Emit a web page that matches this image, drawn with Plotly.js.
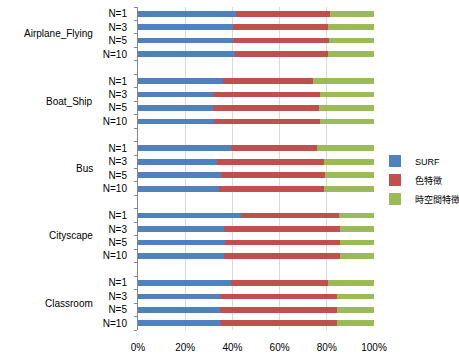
<!DOCTYPE html>
<html>
<head>
<meta charset="utf-8">
<script src="https://cdn.plot.ly/plotly-3.0.1.min.js"></script>
<style>html,body{margin:0;padding:0;background:#fff;}#chart{width:459px;height:355px;}</style>
</head>
<body>
<div id="chart"></div>
<script>
const groups = ['Airplane_Flying', 'Boat_Ship', 'Bus', 'Cityscape', 'Classroom'];
const nLabels = ['N=1', 'N=3', 'N=5', 'N=10'];
const seriesNames = ['SURF', '色特徴', '時空間特徴'];
// percentages, per group in order N=1, N=3, N=5, N=10
const surf = [41.7, 40.3, 40.3, 41.0,
              36.0, 31.9, 31.8, 32.1,
              39.6, 33.6, 35.0, 34.3,
              43.7, 36.3, 37.0, 36.6,
              39.4, 34.7, 34.7, 34.6];
const colorFeat = [39.5, 40.4, 40.5, 39.7,
                   38.0, 45.4, 45.1, 45.0,
                   36.4, 45.0, 44.1, 44.5,
                   41.3, 49.2, 48.6, 49.2,
                   41.1, 49.8, 49.8, 49.7];
const spatioTemporal = [18.8, 19.3, 19.2, 19.3,
                        26.0, 22.7, 23.1, 22.9,
                        24.0, 21.4, 20.9, 21.2,
                        15.0, 14.5, 14.4, 14.2,
                        19.5, 15.5, 15.5, 15.7];
const xTicks = [0, 20, 40, 60, 80, 100];
const colors = ['#4F81BD', '#C0504D', '#9BBB59'];

const FONT = 'Liberation Sans, Arial, Noto Sans CJK JP, sans-serif';
const perGroup = nLabels.length;
const rowsPerGroup = perGroup + 1; // one blank row between groups

const rows = [];
const tickVals = [];
const tickText = [];
groups.forEach((g, gi) => {
  nLabels.forEach((n, ni) => {
    const r = gi * rowsPerGroup + ni;
    rows.push(r);
    tickVals.push(r);
    tickText.push(n);
  });
});
const totalRows = groups.length * rowsPerGroup - 1;
const boundaries = [];
for (let i = 0; i <= totalRows; i++) boundaries.push(i - 0.5);

const seriesData = [surf, colorFeat, spatioTemporal];
const traces = seriesData.map((vals, si) => ({
  type: 'bar',
  orientation: 'h',
  name: seriesNames[si],
  x: vals,
  y: rows,
  width: 0.42,
  marker: {color: colors[si], line: {width: 0}},
  hoverinfo: 'none'
}));
// helper trace so the boundary-tick axis is drawn
traces.push({type: 'scatter', x: [], y: [], yaxis: 'y2', showlegend: false, hoverinfo: 'none'});

const annotations = groups.map((g, gi) => ({
  text: g,
  xref: 'paper', yref: 'y',
  x: 0, y: gi * rowsPerGroup + (perGroup - 1) / 2,
  xanchor: 'right', yanchor: 'middle',
  xshift: -43,
  showarrow: false,
  font: {family: FONT, size: 10, color: '#000'}
}));

const layout = {
  width: 459, height: 355,
  margin: {l: 138, r: 85, t: 7, b: 25, pad: 0},
  paper_bgcolor: '#fff', plot_bgcolor: '#fff',
  barmode: 'stack',
  bargap: 0,
  showlegend: true,
  legend: {
    xref: 'container', yref: 'container',
    x: 375 / 459, xanchor: 'left', y: 1 - 180 / 355, yanchor: 'middle',
    font: {family: FONT, size: 9, color: '#000'},
    traceorder: 'normal',
    itemwidth: 30,
    tracegroupgap: 0,
    bgcolor: 'rgba(0,0,0,0)'
  },
  xaxis: {
    range: [0, 100],
    tickvals: xTicks,
    ticktext: xTicks.map(v => v + '%'),
    showgrid: true, gridcolor: '#D9D9D9', gridwidth: 1,
    zeroline: false, showline: false,
    ticks: '',
    ticklabelstandoff: 10,
    tickfont: {family: FONT, size: 10, color: '#000'},
    fixedrange: true
  },
  yaxis: {
    range: [totalRows - 0.5, -0.5],
    tickmode: 'array', tickvals: tickVals, ticktext: tickText,
    ticks: '',
    ticklabelstandoff: 8,
    showgrid: false, zeroline: false,
    showline: true, linecolor: '#868686', linewidth: 1,
    tickfont: {family: FONT, size: 10, color: '#000'},
    fixedrange: true
  },
  yaxis2: {
    overlaying: 'y', anchor: 'x', side: 'left',
    range: [totalRows - 0.5, -0.5],
    tickmode: 'array', tickvals: boundaries,
    ticks: 'outside', ticklen: 3, tickcolor: '#868686', tickwidth: 1,
    showticklabels: false, showgrid: false, zeroline: false, showline: false,
    fixedrange: true
  },
  annotations: annotations
};

Plotly.newPlot('chart', traces, layout, {displayModeBar: false, staticPlot: true});
</script>
</body>
</html>
